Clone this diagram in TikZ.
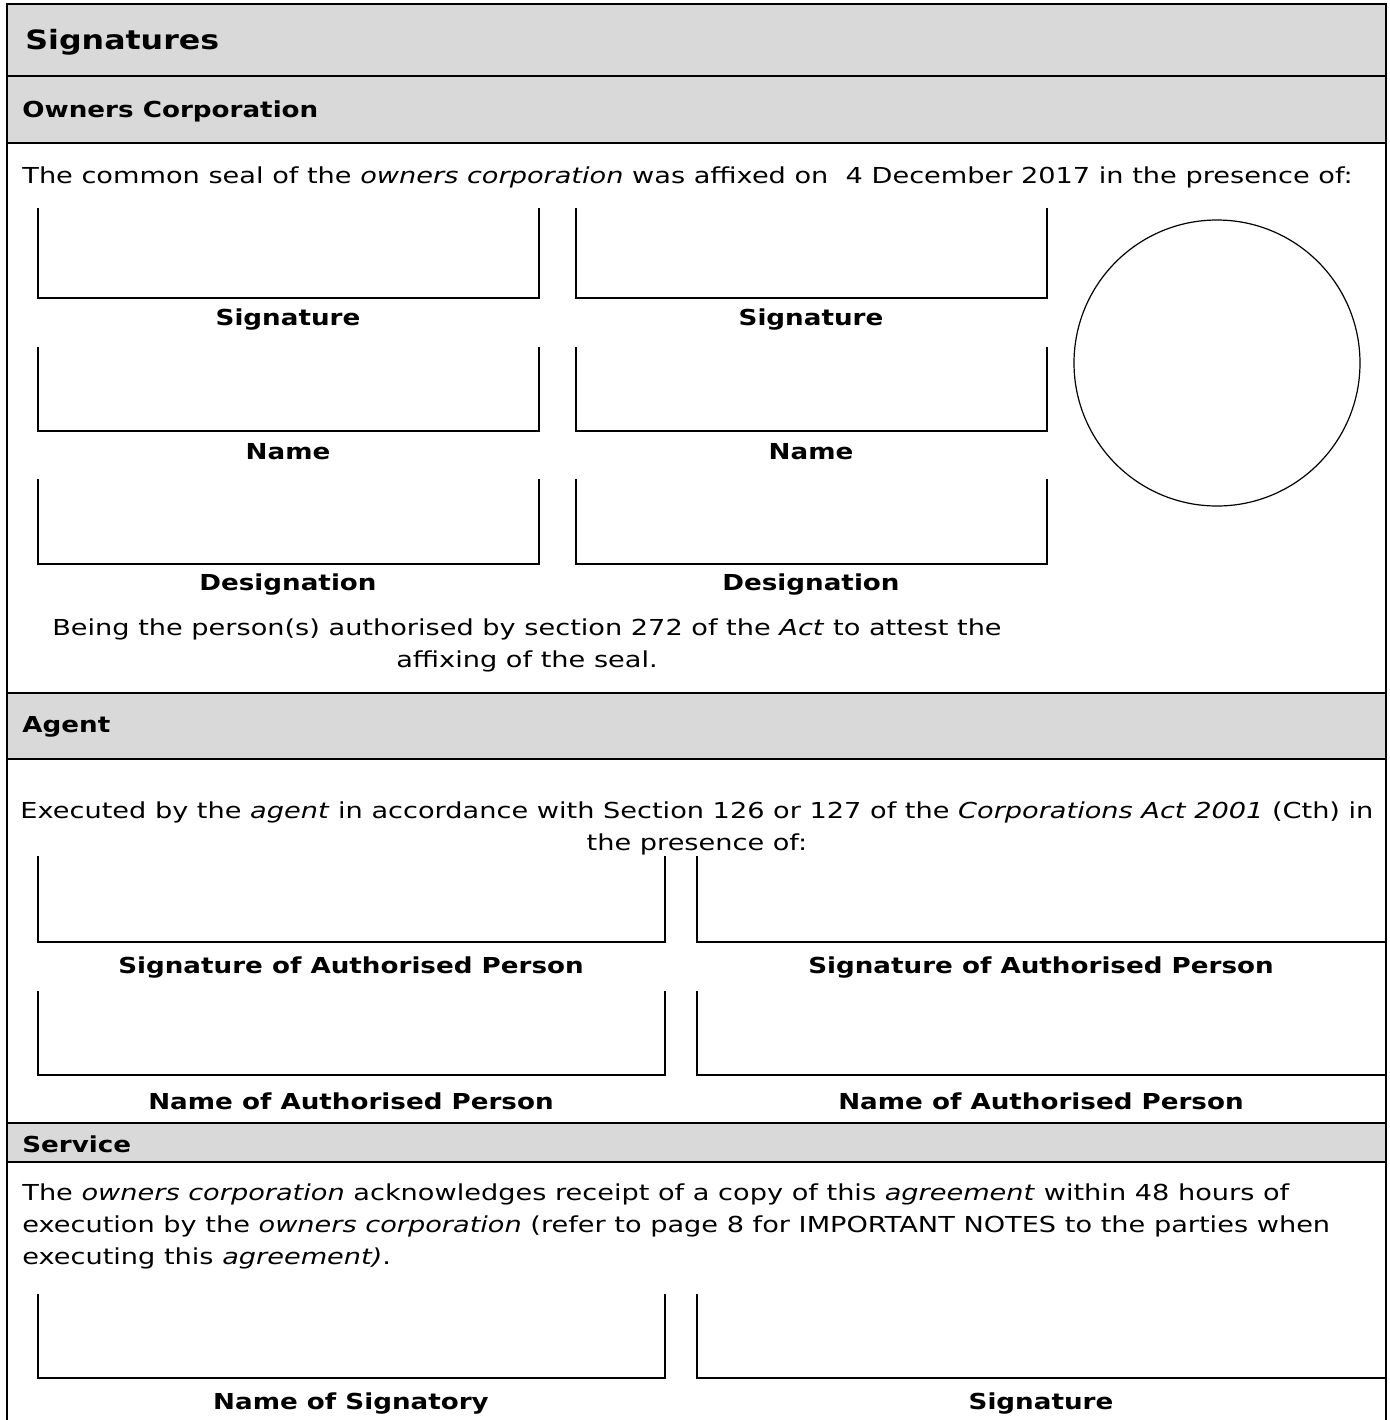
\documentclass[tikz,border=0pt]{standalone}
\usepackage{fontspec}
\setmainfont{DejaVu Sans}[FakeStretch=1.235, BoldFeatures={FakeStretch=1.19}]
\usepackage{tikz}
\definecolor{bandgray}{HTML}{D9D9D9}
\tikzset{
  body/.style={font=\fontsize{11}{16}\selectfont, inner sep=0pt},
  label/.style={body, font=\fontsize{11}{16}\selectfont\bfseries},
  heading/.style={body, font=\fontsize{11}{16}\selectfont\bfseries, anchor=west},
  field/.style={line width=1pt},
  rule/.style={line width=1.3pt}
}

\begin{document}
\begin{tikzpicture}[x=0.5pt,y=-0.5pt]
   \useasboundingbox (0,0) rectangle (1389,1420);
   % grey bands
   \fill[bandgray] (7,4) rectangle (1386,143);
   \fill[bandgray] (7,693) rectangle (1386,759);
   \fill[bandgray] (7,1123) rectangle (1386,1162);
   % frame and rules
   \draw[rule] (7,1420) -- (7,4) -- (1386,4) -- (1386,1420);
   \foreach \y in {76,143,693,759,1123,1162}
      \draw[rule] (7,\y) -- (1386,\y);

   % owners corporation
   \node[heading, font=\fontsize{13.3}{16}\selectfont\bfseries] (title) at (25,42) {Signatures};
   \node[heading] (ochead) at (22,111) {Owners Corporation};
   \node[body, anchor=west] (seal) at (22,177) {The common seal of the \textit{owners corporation} was affixed on\ \ 4 December 2017 in the presence of:};
   \foreach \top/\bot in {208/298,347/431,479/564} {
      \draw[field] (38,\top) -- (38,\bot) -- (539,\bot) -- (539,\top);
      \draw[field] (576,\top) -- (576,\bot) -- (1047,\bot) -- (1047,\top);
   }
   \node[label] (sigA) at (288,320) {Signature};
   \node[label] (sigB) at (811,320) {Signature};
   \node[label] (nameA) at (288,452) {Name};
   \node[label] (nameB) at (811,452) {Name};
   \node[label] (desA) at (288,585) {Designation};
   \node[label] (desB) at (811,585) {Designation};
   \draw[line width=0.6pt] (1217,363) circle (143);
   \node[body, align=center] (attest) at (527,645) {Being the person(s) authorised by section 272 of the \textit{Act} to attest the\\affixing of the seal.};

   % agent
   \node[heading] (aghead) at (22,727) {Agent};
   \node[body, align=center] (exec) at (697,828) {Executed by the \textit{agent} in accordance with Section 126 or 127 of the \textit{Corporations Act 2001} (Cth) in\\the presence of:};
   \foreach \top/\bot in {856/942,991/1075} {
      \draw[field] (38,\top) -- (38,\bot) -- (665,\bot) -- (665,\top);
      \draw[field] (697,\top) -- (697,\bot) -- (1386,\bot);
   }
   \node[label] (agsigA) at (351,968) {Signature of Authorised Person};
   \node[label] (agsigB) at (1041,968) {Signature of Authorised Person};
   \node[label] (agnameA) at (351,1101) {Name of Authorised Person};
   \node[label] (agnameB) at (1041,1101) {Name of Authorised Person};

   % service
   \node[heading] (svhead) at (22,1144) {Service};
   \node[body, align=left, anchor=west] (receipt) at (22,1226) {The \textit{owners corporation} acknowledges receipt of a copy of this \textit{agreement} within 48 hours of\\execution by the \textit{owners corporation} (refer to page 8 for IMPORTANT NOTES to the parties when\\executing this \textit{agreement)}.};
   \draw[field] (38,1294) -- (38,1378) -- (665,1378) -- (665,1294);
   \draw[field] (697,1294) -- (697,1378) -- (1386,1378);
   \node[label] (svname) at (351,1403) {Name of Signatory};
   \node[label] (svsig) at (1041,1403) {Signature};
\end{tikzpicture}
\end{document}
